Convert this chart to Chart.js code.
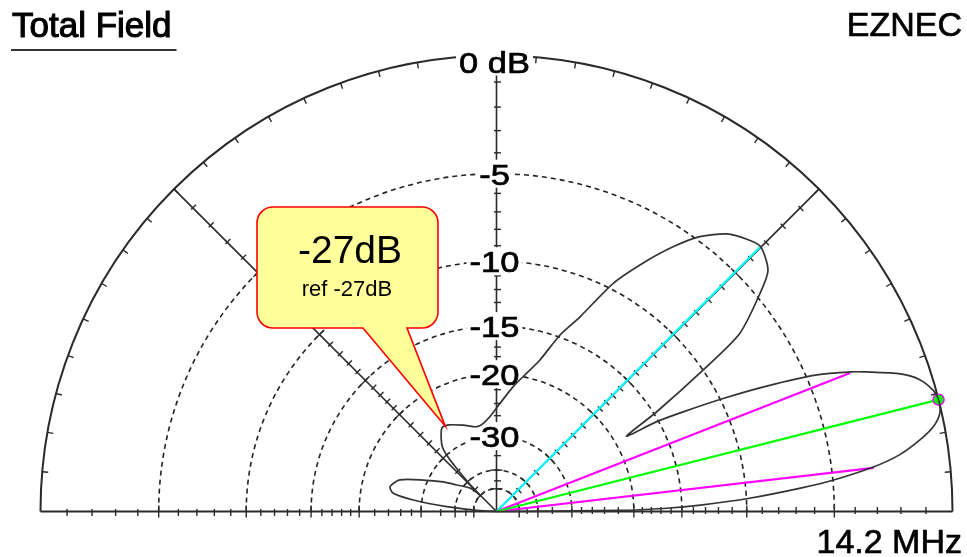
<!DOCTYPE html>
<html>
<head>
<meta charset="utf-8">
<script src="https://cdn.jsdelivr.net/npm/chart.js@4.4.1/dist/chart.umd.min.js"></script>
<style>
html,body{margin:0;padding:0;background:#ffffff;}
#wrap{position:relative;width:967px;height:557px;}
</style>
</head>
<body>
<div id="wrap"><canvas id="c" width="967" height="557"></canvas></div>
<script>
// ---- Elevation pattern (angle in degrees above horizon, gain in dB relative to max) ----
const elevationDeg = [0, 0.5, 1.1, 1.8, 3.0, 4.4, 5.3, 6.7, 8.0, 9.6, 11.0, 12.5, 14.2, 15.5, 17.3, 18.8,
  20.7, 21.5, 23.1, 24.9, 26.5, 28.1, 29.3, 30.1, 31.9, 34.4, 36.2, 39.6, 41.6, 45.1, 47.5, 50.3,
  53.5, 56.3, 59.4, 62.9, 66.8, 70.2, 74.0, 77.7, 82.3, 88.2, 93.9, 98.5, 103.1, 111.0, 118.7,
  123.1, 127.5, 130.0, 131.5, 132.5, 133.5, 134.5, 135.5, 136.5, 138.0, 141.0, 146.3, 151.0,
  156.7, 161.9, 166.9, 170.0, 172.1, 174.5, 176.3, 178.0, 180.0];
const gainDb = [-99, -22, -16.4, -13.4, -9.8, -6.7, -5.0, -3.1, -1.9, -1.0, -0.4, -0.07, 0.0, -0.1, -0.47, -1.1,
  -2.4, -3.0, -4.5, -7.1, -9.8, -12.8, -15.2, -18.5, -14.7, -10.0, -6.9, -4.8, -3.8, -3.3, -3.5, -3.9,
  -4.8, -6.0, -7.6, -9.6, -12.8, -14.8, -17.7, -19.5, -21.4, -24.0, -26.1, -27.2, -27.6, -26.6, -25.5,
  -25.3, -26.9, -28.2, -30.0, -33.0, -37.0, -42.0, -50.0, -46.0, -43.0, -41.0, -37.6, -33.5,
  -29.1, -25.0, -23.8, -24.5, -28.2, -36.8, -49.6, -65, -99];

// ---- Markers: max gain (green), -3 dB beamwidth edges (magenta), second lobe (cyan) ----
const maxGainAngle = [14.2];
const maxGainDb = [0.0];
const beamEdgeAngles = [6.6, 21.4];
const beamEdgeDb = [-3.05, -3.05];
const secondLobeAngle = [45.1];
const secondLobeDb = [-3.3];

// ---- Cursor annotation ----
const cursorAngle = [121.0];
const cursorDb = [-25.4];
const cursorLabel = "-27dB";
const cursorRefLabel = "ref -27dB";

// ---- Grid ----
const gridRingsDb = [-5, -10, -15, -20, -30, -40, -50];
const ringLabelsDb = [0, -5, -10, -15, -20, -30];
const ringLabels = ["0 dB", "-5", "-10", "-15", "-20", "-30"];
const radialLinesDeg = [45, 90, 135];
const tickLevelsDb = [-1,-2,-3,-4,-5,-6,-7,-8,-9,-10,-11,-12,-13,-14,-15,-16,-17,-18,-19,-20,-22,-24,-26,-28,-30,-35,-40,-45,-50];
const majorTickDb = [-5, -10, -15, -20, -30, -40, -50];
const arcTickStepDeg = 5;

const titleText = "Total Field";
const brandText = "EZNEC";
const freqText = "14.2 MHz";

// ARRL-style log radial scale, in chart units (outer ring = R)
const R = 456;
const K = 0.06;
function radiusOf(db){ return db <= -99 ? 0 : R * Math.exp(K * db); }
function toXY(angleDeg, db){
  const a = angleDeg * Math.PI / 180, r = radiusOf(db);
  return {x: r * Math.cos(a), y: r * Math.sin(a)};
}
const patternPoints = elevationDeg.map((a, i) => toXY(a, gainDb[i]));
function ray(angles, dbs){ return angles.map((a,i)=>[{x:0,y:0}, toXY(a, dbs[i])]); }

function heavyText(ctx, text, x, y, w){
  ctx.fillText(text, x, y);
  ctx.lineWidth = w;
  ctx.strokeStyle = ctx.fillStyle;
  ctx.strokeText(text, x, y);
}

const gridPlugin = {
  id: 'polarGrid',
  beforeDatasetsDraw(chart){
    const ctx = chart.ctx, xs = chart.scales.x, ys = chart.scales.y;
    const cx = xs.getPixelForValue(0), cy = ys.getPixelForValue(0);
    const k = xs.getPixelForValue(R) - cx;
    const px = v => v * k / R;
    ctx.save();
    ctx.strokeStyle = '#222';
    // dashed rings
    ctx.lineWidth = 1.6;
    ctx.setLineDash([5, 4]);
    gridRingsDb.forEach(db => {
      ctx.beginPath();
      ctx.arc(cx, cy, px(radiusOf(db)), Math.PI, 2 * Math.PI);
      ctx.stroke();
    });
    ctx.setLineDash([]);
    // outer arc
    ctx.lineWidth = 2;
    ctx.strokeStyle = '#2a2a2a';
    ctx.beginPath();
    ctx.arc(cx, cy, px(R), Math.PI, 2 * Math.PI);
    ctx.stroke();
    // baseline
    ctx.beginPath();
    ctx.moveTo(cx - px(R), cy); ctx.lineTo(cx + px(R), cy);
    ctx.stroke();
    // radial lines
    ctx.lineWidth = 1.6;
    radialLinesDeg.forEach(d => {
      const a = d * Math.PI / 180;
      ctx.beginPath();
      ctx.moveTo(cx, cy);
      ctx.lineTo(cx + px(R) * Math.cos(a), cy - px(R) * Math.sin(a));
      ctx.stroke();
    });
    // ticks along radial lines and baseline
    ctx.lineWidth = 1.4;
    [0, 45, 90, 135, 180].forEach(d => {
      const a = d * Math.PI / 180;
      const ux = Math.cos(a), uy = -Math.sin(a);
      const nx = -uy, ny = ux; // perpendicular
      tickLevelsDb.forEach(db => {
        const r = px(radiusOf(db));
        const major = majorTickDb.includes(db);
        const l1 = major ? 6 : 2.5, l2 = major ? 6 : 4.5;
        const sx = cx + r * ux, sy = cy + r * uy;
        let dir = (d === 0) ? -1 : 1;
        if (d === 180) dir = -1;
        ctx.beginPath();
        ctx.moveTo(sx - nx * l1 * dir, sy - ny * l1 * dir);
        ctx.lineTo(sx + nx * l2 * dir, sy + ny * l2 * dir);
        ctx.stroke();
      });
    });
    // ticks on outer arc
    for (let d = arcTickStepDeg; d < 180; d += arcTickStepDeg) {
      const a = d * Math.PI / 180;
      const ux = Math.cos(a), uy = -Math.sin(a);
      ctx.beginPath();
      ctx.moveTo(cx + px(R) * ux, cy + px(R) * uy);
      ctx.lineTo(cx + (px(R) - 6) * ux, cy + (px(R) - 6) * uy);
      ctx.stroke();
    }
    // ring labels with white background
    ctx.font = '30px "Liberation Sans", Arial, sans-serif';
    ctx.textBaseline = 'alphabetic';
    ctx.textAlign = 'center';
    const sX = 1.15;
    ringLabelsDb.forEach((db, i) => {
      const r = px(radiusOf(db));
      const ty = cy - r + (db === 0 ? 6 : 0);
      const w = ctx.measureText(ringLabels[i]).width * sX;
      const lx = cx - 2;
      ctx.fillStyle = '#ffffff';
      ctx.fillRect(lx - w / 2 - 3, ty - 14, w + 6, 28);
      ctx.save();
      ctx.translate(lx, ty + 11);
      ctx.scale(sX, 1);
      ctx.fillStyle = '#000000';
      heavyText(ctx, ringLabels[i], 0, 0, 0.7);
      ctx.restore();
    });
    ctx.restore();
  },
  afterDatasetsDraw(chart){
    const ctx = chart.ctx, xs = chart.scales.x, ys = chart.scales.y;
    ctx.save();
    // headings
    ctx.fillStyle = '#000';
    ctx.font = '35px "Liberation Sans", Arial, sans-serif';
    ctx.textAlign = 'left'; ctx.textBaseline = 'alphabetic';
    heavyText(ctx, titleText, 12, 37, 1.1);
    const tw = ctx.measureText(titleText).width;
    ctx.fillStyle = '#333';
    ctx.fillRect(11, 49, tw + 6, 2);
    ctx.fillStyle = '#000';
    ctx.textAlign = 'right';
    ctx.font = '34px "Liberation Sans", Arial, sans-serif';
    heavyText(ctx, brandText, 962, 36, 0.7);
    heavyText(ctx, freqText, 962, 553, 0.7);
    // cursor callout
    const p = toXY(cursorAngle[0], cursorDb[0]);
    const tx = xs.getPixelForValue(p.x), ty = ys.getPixelForValue(p.y);
    const x0 = 257, y0 = 207, x1 = 438, y1 = 328, rad = 16, bx0 = 363, bx1 = 407;
    ctx.beginPath();
    ctx.moveTo(x0 + rad, y0);
    ctx.lineTo(x1 - rad, y0);
    ctx.arcTo(x1, y0, x1, y0 + rad, rad);
    ctx.lineTo(x1, y1 - rad);
    ctx.arcTo(x1, y1, x1 - rad, y1, rad);
    ctx.lineTo(bx1, y1);
    ctx.lineTo(tx, ty);
    ctx.lineTo(bx0, y1);
    ctx.lineTo(x0 + rad, y1);
    ctx.arcTo(x0, y1, x0, y1 - rad, rad);
    ctx.lineTo(x0, y0 + rad);
    ctx.arcTo(x0, y0, x0 + rad, y0, rad);
    ctx.closePath();
    ctx.fillStyle = '#ffff9c';
    ctx.fill();
    ctx.strokeStyle = '#ff0000';
    ctx.lineWidth = 1.6;
    ctx.stroke();
    ctx.fillStyle = '#000';
    ctx.textAlign = 'center';
    ctx.font = '39px "Liberation Sans", Arial, sans-serif';
    ctx.fillText(cursorLabel, 350, 263);
    ctx.font = '22px "Liberation Sans", Arial, sans-serif';
    ctx.fillText(cursorRefLabel, 347, 296);
    ctx.restore();
  }
};

const lineDs = (data, color, width) => ({
  data, showLine: true, borderColor: color, backgroundColor: color,
  borderWidth: width, pointRadius: 0, tension: 0, fill: false
});

const datasets = [
  Object.assign(lineDs(patternPoints, '#333333', 1.7), {label: 'Pattern', tension: 0.25}),
  {label: 'Max', data: maxGainAngle.map((a,i)=>toXY(a, maxGainDb[i])), showLine: false,
   pointRadius: 5.5, pointBackgroundColor: '#00ff00', pointBorderColor: '#ff00ff', pointBorderWidth: 1.5},
  lineDs(ray(maxGainAngle, maxGainDb)[0], '#00ff00', 2.2),
  lineDs(ray(beamEdgeAngles, beamEdgeDb)[0], '#ff00ff', 2.2),
  lineDs(ray(beamEdgeAngles, beamEdgeDb)[1], '#ff00ff', 2.2),
  lineDs(ray(secondLobeAngle, secondLobeDb)[0], '#00ffff', 2.2)
];

new Chart(document.getElementById('c'), {
  type: 'scatter',
  data: { datasets },
  options: {
    responsive: false,
    animation: false,
    events: [],
    layout: { padding: 0, autoPadding: false },
    plugins: { legend: { display: false }, tooltip: { enabled: false }, title: { display: false } },
    scales: {
      x: { type: 'linear', display: false, min: -496.5, max: 470.5 },
      y: { type: 'linear', display: false, min: -45.5, max: 511.5 }
    }
  },
  plugins: [gridPlugin]
});
</script>
</body>
</html>
